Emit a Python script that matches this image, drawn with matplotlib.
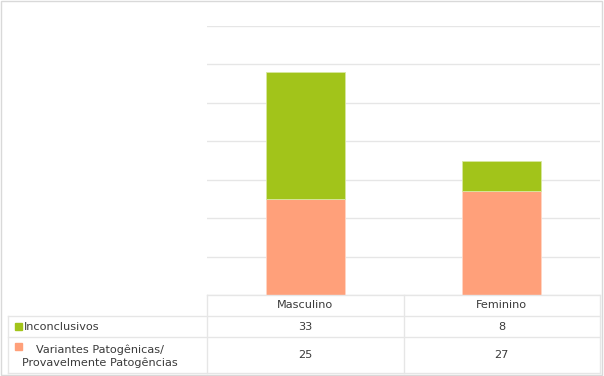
import matplotlib
matplotlib.use("Agg")
import matplotlib.pyplot as plt
from matplotlib.lines import Line2D
from matplotlib.patches import Rectangle

categories = ["Masculino", "Feminino"]
series_names = ["Inconclusivos", "Variantes Patogênicas/\nProvavelmente Patogências"]
inconclusivos = [33, 8]
patogenicas = [25, 27]
y_ticks = [0, 10, 20, 30, 40, 50, 60, 70]

GREEN = "#A2C41A"
ORANGE = "#FFA07A"
GRID = "#E6E6E6"
TXT = "#3A3A3A"

W, H = 604, 376
fig = plt.figure(figsize=(W / 100, H / 100), dpi=100)
plt.rcParams['font.family'] = ['DejaVu Sans']

def fx(x):
    return x / W

def fy(y):
    return 1 - y / H

ax_left, ax_right, ax_bottom, ax_top = 207, 600, 295, 26
ax = fig.add_axes([fx(ax_left), fy(ax_bottom), fx(ax_right - ax_left), (ax_bottom - ax_top) / H])
x = list(range(len(categories)))
ax.bar(x, patogenicas, width=0.4, color=ORANGE, edgecolor="#FFD5C4", linewidth=0.6, zorder=3)
ax.bar(x, inconclusivos, width=0.4, bottom=patogenicas, color=GREEN, edgecolor="#D8E8A0", linewidth=0.6, zorder=3)
ax.set_xlim(-0.5, len(categories) - 0.5)
ax.set_ylim(y_ticks[0], y_ticks[-1])
ax.set_yticks(y_ticks)
ax.yaxis.grid(True, color=GRID, linewidth=1.0, zorder=0)
ax.set_axisbelow(True)
ax.tick_params(left=False, bottom=False, labelleft=False, labelbottom=False)
for s in ax.spines.values():
    s.set_visible(False)

# figure border
fig.add_artist(Rectangle((fx(1), fy(375)), fx(601), (374) / H, transform=fig.transFigure,
                         fill=False, edgecolor="#D9D9D9", linewidth=1))

# table
def hline(x0, x1, y):
    fig.add_artist(Line2D([fx(x0), fx(x1)], [fy(y), fy(y)], color=GRID, linewidth=1.0))

def vline(x, y0, y1):
    fig.add_artist(Line2D([fx(x), fx(x)], [fy(y0), fy(y1)], color=GRID, linewidth=1.0))

t_left, t_col1, t_right = 8, 207, 600
col_w = (t_right - t_col1) / len(categories)
rows_y = [295, 316, 337, 373]
hline(t_col1, t_right, rows_y[0])
for yy in rows_y[1:]:
    hline(t_left, t_right, yy)
vline(t_left, rows_y[1], rows_y[3])
for i in range(len(categories) + 1):
    vline(t_col1 + i * col_w, rows_y[0], rows_y[3])

fs = 8.1
for i, c in enumerate(categories):
    cx = t_col1 + (i + 0.5) * col_w
    fig.text(fx(cx), fy((rows_y[0] + rows_y[1]) / 2), c, ha="center", va="center", fontsize=fs, color=TXT)
    fig.text(fx(cx), fy((rows_y[1] + rows_y[2]) / 2), str(inconclusivos[i]), ha="center", va="center", fontsize=fs, color=TXT)
    fig.text(fx(cx), fy((rows_y[2] + rows_y[3]) / 2), str(patogenicas[i]), ha="center", va="center", fontsize=fs, color=TXT)

# row headers with legend keys
fig.add_artist(Rectangle((fx(15), fy(329.5)), fx(7), 7 / H, transform=fig.transFigure, color=GREEN))
fig.text(fx(24), fy((rows_y[1] + rows_y[2]) / 2), series_names[0], ha="left", va="center", fontsize=fs, color=TXT)
fig.add_artist(Rectangle((fx(15), fy(350)), fx(7), 7 / H, transform=fig.transFigure, color=ORANGE))
fig.text(fx(100), fy((rows_y[2] + rows_y[3]) / 2 + 1), series_names[1], ha="center", va="center",
         multialignment="center", fontsize=fs, color=TXT, linespacing=1.3)

fig.savefig("out.png", dpi=100)
